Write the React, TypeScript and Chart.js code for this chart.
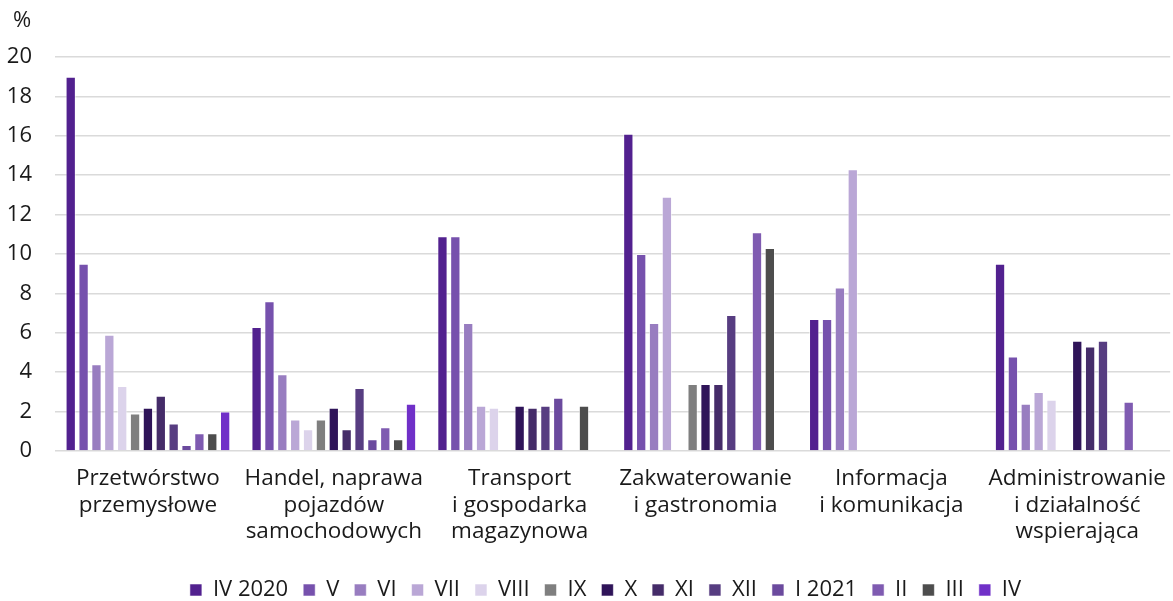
import React, { useEffect, useRef } from "react";
import { Chart, registerables } from "chart.js";

Chart.register(...registerables);

const categories: string[][] = [
  ["Przetwórstwo", "przemysłowe"],
  ["Handel, naprawa", "pojazdów", "samochodowych"],
  ["Transport", "i gospodarka", "magazynowa"],
  ["Zakwaterowanie", "i gastronomia"],
  ["Informacja", "i komunikacja"],
  ["Administrowanie", "i działalność", "wspierająca"],
];

const seriesNames = ["IV 2020", "V", "VI", "VII", "VIII", "IX", "X", "XI", "XII", "I 2021", "II", "III", "IV"];

const seriesColors = [
  "#52218f", "#7651ad", "#987dc0", "#baa7d6", "#dcd3eb", "#7f7f7f",
  "#2f1459", "#452c69", "#573d81", "#6b4a9e", "#7f5bb1", "#4d4d4d", "#7030c8",
];

// values per series, one per category
const vIV2020 = [19.0, 6.3, 10.9, 16.1, 6.7, 9.5];
const vV = [9.5, 7.6, 10.9, 10.0, 6.7, 4.8];
const vVI = [4.4, 3.9, 6.5, 6.5, 8.3, 2.4];
const vVII = [5.9, 1.6, 2.3, 12.9, 14.3, 3.0];
const vVIII = [3.3, 1.1, 2.2, null, null, 2.6];
const vIX = [1.9, 1.6, null, 3.4, null, null];
const vX = [2.2, 2.2, 2.3, 3.4, null, 5.6];
const vXI = [2.8, 1.1, 2.2, 3.4, null, 5.3];
const vXII = [1.4, 3.2, 2.3, 6.9, null, 5.6];
const vI2021 = [0.3, 0.6, 2.7, null, null, null];
const vII = [0.9, 1.2, null, 11.1, null, 2.5];
const vIII = [0.9, 0.6, 2.3, 10.3, null, null];
const vIV2021 = [2.0, 2.4, null, null, null, null];

const seriesValues = [vIV2020, vV, vVI, vVII, vVIII, vIX, vX, vXI, vXII, vI2021, vII, vIII, vIV2021];

const yTicks = [0, 2, 4, 6, 8, 10, 12, 14, 16, 18, 20];

const FONT = "'Open Sans', 'Noto Sans', sans-serif";

export default function App() {
  const ref = useRef<HTMLCanvasElement | null>(null);

  useEffect(() => {
    document.body.style.margin = "0";
    if (!ref.current) return;
    const percentPlugin = {
      id: "percentLabel",
      beforeDraw(chart: any) {
        if (chart.legend) {
          chart.legend.left = 19;
          chart.legend.right = chart.width + 19;
        }
      },
      afterDraw(chart: any) {
        const ctx = chart.ctx;
        ctx.save();
        ctx.font = `22px ${FONT}`;
        ctx.fillStyle = "#1a1a1a";
        ctx.textAlign = "left";
        ctx.textBaseline = "middle";
        ctx.fillText("%", 13, 21);
        ctx.restore();
      },
    };
    const chart = new Chart(ref.current, {
      type: "bar",
      data: {
        labels: categories,
        datasets: seriesNames.map((name, i) => ({
          label: name,
          data: seriesValues[i],
          backgroundColor: seriesColors[i],
          borderColor: "rgba(255,255,255,0.55)",
          borderWidth: 1,
          categoryPercentage: 0.9,
          barPercentage: 0.8,
        })),
      },
      options: {
        animation: false,
        responsive: false,
        maintainAspectRatio: false,
        layout: { padding: { top: 57, left: 0, right: 0, bottom: -10 } },
        plugins: {
          title: { display: false },
          tooltip: { enabled: false },
          legend: {
            position: "bottom",
            labels: {
              boxWidth: 12,
              boxHeight: 12,
              padding: 15,
              color: "#1a1a1a",
              font: { family: FONT, size: 22 },
            },
          },
        },
        scales: {
          x: {
            grid: { display: false },
            border: { display: false },
            ticks: {
              color: "#1a1a1a",
              padding: 7,
              maxRotation: 0,
              autoSkip: false,
              font: { family: FONT, size: 22.5, lineHeight: 1.16 },
            },
            afterFit: (s: any) => {
              s.height = 113;
            },
          },
          y: {
            min: 0,
            max: 20,
            afterBuildTicks: (s: any) => {
              s.ticks = yTicks.map((v) => ({ value: v }));
            },
            grid: { color: "#dadada", lineWidth: 1.5, drawTicks: false },
            border: { display: false },
            ticks: {
              color: "#1a1a1a",
              padding: 23,
              font: { family: FONT, size: 22 },
            },
            afterFit: (s: any) => {
              s.width = 55;
            },
          },
        },
      },
      plugins: [percentPlugin],
    });
    return () => chart.destroy();
  }, []);

  return (
    <div style={{ width: 1173, height: 601 }}>
      <canvas ref={ref} width={1173} height={601} style={{ display: "block" }} />
    </div>
  );
}
